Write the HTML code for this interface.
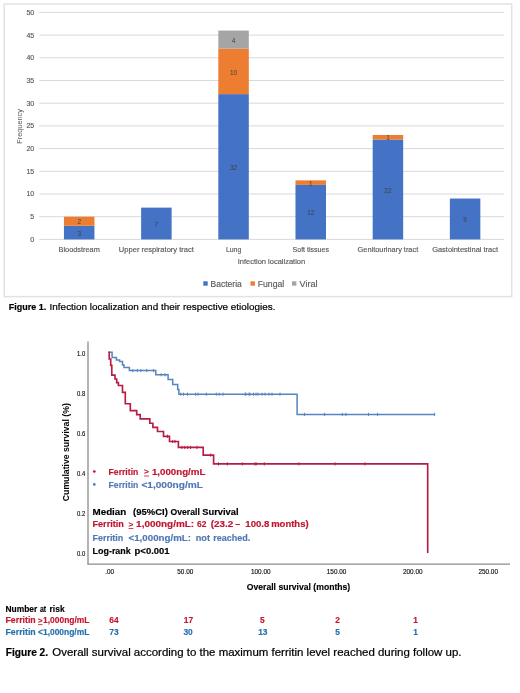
<!DOCTYPE html>
<html><head><meta charset="utf-8"><style>
html,body{margin:0;padding:0;background:#fff;}
svg{display:block;font-family:"Liberation Sans", sans-serif;}
svg{filter:blur(0.3px);}
</style></head><body>
<svg width="520" height="693" viewBox="0 0 520 693">
<rect width="520" height="693" fill="#fff"/>
<rect x="4.25" y="4" width="507.5" height="292.6" fill="none" stroke="#e2e2e2" stroke-width="1.5"/>
<line x1="39.3" y1="239.40" x2="504" y2="239.40" stroke="#d9d9d9" stroke-width="1"/>
<text x="34.2" y="241.80" font-size="7" fill="#595959" text-anchor="end" stroke="#595959" stroke-width="0.15">0</text>
<line x1="39.3" y1="216.70" x2="504" y2="216.70" stroke="#d9d9d9" stroke-width="1"/>
<text x="34.2" y="219.10" font-size="7" fill="#595959" text-anchor="end" stroke="#595959" stroke-width="0.15">5</text>
<line x1="39.3" y1="194.00" x2="504" y2="194.00" stroke="#d9d9d9" stroke-width="1"/>
<text x="34.2" y="196.40" font-size="7" fill="#595959" text-anchor="end" stroke="#595959" stroke-width="0.15">10</text>
<line x1="39.3" y1="171.30" x2="504" y2="171.30" stroke="#d9d9d9" stroke-width="1"/>
<text x="34.2" y="173.70" font-size="7" fill="#595959" text-anchor="end" stroke="#595959" stroke-width="0.15">15</text>
<line x1="39.3" y1="148.60" x2="504" y2="148.60" stroke="#d9d9d9" stroke-width="1"/>
<text x="34.2" y="151.00" font-size="7" fill="#595959" text-anchor="end" stroke="#595959" stroke-width="0.15">20</text>
<line x1="39.3" y1="125.90" x2="504" y2="125.90" stroke="#d9d9d9" stroke-width="1"/>
<text x="34.2" y="128.30" font-size="7" fill="#595959" text-anchor="end" stroke="#595959" stroke-width="0.15">25</text>
<line x1="39.3" y1="103.20" x2="504" y2="103.20" stroke="#d9d9d9" stroke-width="1"/>
<text x="34.2" y="105.60" font-size="7" fill="#595959" text-anchor="end" stroke="#595959" stroke-width="0.15">30</text>
<line x1="39.3" y1="80.50" x2="504" y2="80.50" stroke="#d9d9d9" stroke-width="1"/>
<text x="34.2" y="82.90" font-size="7" fill="#595959" text-anchor="end" stroke="#595959" stroke-width="0.15">35</text>
<line x1="39.3" y1="57.80" x2="504" y2="57.80" stroke="#d9d9d9" stroke-width="1"/>
<text x="34.2" y="60.20" font-size="7" fill="#595959" text-anchor="end" stroke="#595959" stroke-width="0.15">40</text>
<line x1="39.3" y1="35.10" x2="504" y2="35.10" stroke="#d9d9d9" stroke-width="1"/>
<text x="34.2" y="37.50" font-size="7" fill="#595959" text-anchor="end" stroke="#595959" stroke-width="0.15">45</text>
<line x1="39.3" y1="12.40" x2="504" y2="12.40" stroke="#d9d9d9" stroke-width="1"/>
<text x="34.2" y="14.80" font-size="7" fill="#595959" text-anchor="end" stroke="#595959" stroke-width="0.15">50</text>
<rect x="63.95" y="225.78" width="30.5" height="13.62" fill="#4472c4"/>
<text x="79.20" y="235.69" font-size="6.4" fill="#404040" text-anchor="middle">3</text>
<rect x="63.95" y="216.70" width="30.5" height="9.08" fill="#ed7d31"/>
<text x="79.20" y="224.34" font-size="6.4" fill="#404040" text-anchor="middle">2</text>
<rect x="141.13" y="207.62" width="30.5" height="31.78" fill="#4472c4"/>
<text x="156.38" y="226.61" font-size="6.4" fill="#404040" text-anchor="middle">7</text>
<rect x="218.31" y="94.12" width="30.5" height="145.28" fill="#4472c4"/>
<text x="233.56" y="169.86" font-size="6.4" fill="#404040" text-anchor="middle">32</text>
<rect x="218.31" y="48.72" width="30.5" height="45.40" fill="#ed7d31"/>
<text x="233.56" y="74.52" font-size="6.4" fill="#404040" text-anchor="middle">10</text>
<rect x="218.31" y="30.56" width="30.5" height="18.16" fill="#a5a5a5"/>
<text x="233.56" y="42.74" font-size="6.4" fill="#404040" text-anchor="middle">4</text>
<rect x="295.49" y="184.92" width="30.5" height="54.48" fill="#4472c4"/>
<text x="310.74" y="215.26" font-size="6.4" fill="#404040" text-anchor="middle">12</text>
<rect x="295.49" y="180.38" width="30.5" height="4.54" fill="#ed7d31"/>
<text x="310.74" y="185.75" font-size="6.4" fill="#404040" text-anchor="middle">1</text>
<rect x="372.67" y="139.52" width="30.5" height="99.88" fill="#4472c4"/>
<text x="387.92" y="192.56" font-size="6.4" fill="#404040" text-anchor="middle">22</text>
<rect x="372.67" y="134.98" width="30.5" height="4.54" fill="#ed7d31"/>
<text x="387.92" y="140.35" font-size="6.4" fill="#404040" text-anchor="middle">1</text>
<rect x="449.85" y="198.54" width="30.5" height="40.86" fill="#4472c4"/>
<text x="465.10" y="222.07" font-size="6.4" fill="#404040" text-anchor="middle">9</text>
<text x="79.20" y="251.6" font-size="7.3" fill="#595959" text-anchor="middle" textLength="41.3" lengthAdjust="spacingAndGlyphs" stroke="#595959" stroke-width="0.15">Bloodstream</text>
<text x="156.38" y="251.6" font-size="7.3" fill="#595959" text-anchor="middle" textLength="75" lengthAdjust="spacingAndGlyphs" stroke="#595959" stroke-width="0.15">Upper respiratory tract</text>
<text x="233.56" y="251.6" font-size="7.3" fill="#595959" text-anchor="middle" textLength="15.3" lengthAdjust="spacingAndGlyphs" stroke="#595959" stroke-width="0.15">Lung</text>
<text x="310.74" y="251.6" font-size="7.3" fill="#595959" text-anchor="middle" textLength="36.4" lengthAdjust="spacingAndGlyphs" stroke="#595959" stroke-width="0.15">Soft tissues</text>
<text x="387.92" y="251.6" font-size="7.3" fill="#595959" text-anchor="middle" textLength="60.6" lengthAdjust="spacingAndGlyphs" stroke="#595959" stroke-width="0.15">Genitourinary tract</text>
<text x="465.10" y="251.6" font-size="7.3" fill="#595959" text-anchor="middle" textLength="65.8" lengthAdjust="spacingAndGlyphs" stroke="#595959" stroke-width="0.15">Gastointestinal tract</text>
<text x="271.45" y="264.4" font-size="7.8" fill="#595959" text-anchor="middle" textLength="67.5" lengthAdjust="spacingAndGlyphs" stroke="#595959" stroke-width="0.15">Infection localization</text>
<text x="0" y="0" font-size="7.8" fill="#595959" text-anchor="middle" textLength="34.6" lengthAdjust="spacingAndGlyphs" transform="translate(22.2,126.4) rotate(-90)">Frequency</text>
<rect x="203.3" y="281.3" width="4.4" height="4.4" fill="#4472c4"/>
<text x="210.5" y="287" font-size="8.8" fill="#595959" textLength="31.3" lengthAdjust="spacingAndGlyphs" stroke="#595959" stroke-width="0.15">Bacteria</text>
<rect x="250.5" y="281.3" width="4.4" height="4.4" fill="#ed7d31"/>
<text x="257.7" y="287" font-size="8.8" fill="#595959" textLength="26.6" lengthAdjust="spacingAndGlyphs" stroke="#595959" stroke-width="0.15">Fungal</text>
<rect x="292" y="281.3" width="4.4" height="4.4" fill="#a5a5a5"/>
<text x="299.5" y="287" font-size="8.8" fill="#595959" textLength="18" lengthAdjust="spacingAndGlyphs" stroke="#595959" stroke-width="0.15">Viral</text>
<text x="8.8" y="310.3" font-size="9.7" fill="#000" font-weight="bold" textLength="37.4" lengthAdjust="spacingAndGlyphs" stroke="#000" stroke-width="0.2">Figure 1.</text>
<text x="49.6" y="310.3" font-size="9.7" fill="#000" textLength="225.9" lengthAdjust="spacingAndGlyphs" stroke="#000" stroke-width="0.2">Infection localization and their respective etiologies.</text>
<line x1="88" y1="341.5" x2="88" y2="564.2" stroke="#8c8c8c" stroke-width="1.3"/>
<line x1="87.4" y1="564.2" x2="510" y2="564.2" stroke="#8c8c8c" stroke-width="1.3"/>
<text x="85.2" y="556.10" font-size="6.4" fill="#111" text-anchor="end" textLength="8.2" lengthAdjust="spacingAndGlyphs" stroke="#111" stroke-width="0.15">0.0</text>
<text x="85.2" y="515.98" font-size="6.4" fill="#111" text-anchor="end" textLength="8.2" lengthAdjust="spacingAndGlyphs" stroke="#111" stroke-width="0.15">0.2</text>
<text x="85.2" y="475.86" font-size="6.4" fill="#111" text-anchor="end" textLength="8.2" lengthAdjust="spacingAndGlyphs" stroke="#111" stroke-width="0.15">0.4</text>
<text x="85.2" y="435.74" font-size="6.4" fill="#111" text-anchor="end" textLength="8.2" lengthAdjust="spacingAndGlyphs" stroke="#111" stroke-width="0.15">0.6</text>
<text x="85.2" y="395.62" font-size="6.4" fill="#111" text-anchor="end" textLength="8.2" lengthAdjust="spacingAndGlyphs" stroke="#111" stroke-width="0.15">0.8</text>
<text x="85.2" y="355.50" font-size="6.4" fill="#111" text-anchor="end" textLength="8.2" lengthAdjust="spacingAndGlyphs" stroke="#111" stroke-width="0.15">1.0</text>
<text x="109.6" y="573.8" font-size="6.4" fill="#111" text-anchor="middle" stroke="#111" stroke-width="0.15">.00</text>
<text x="185.3" y="573.8" font-size="6.4" fill="#111" text-anchor="middle" stroke="#111" stroke-width="0.15">50.00</text>
<text x="260.8" y="573.8" font-size="6.4" fill="#111" text-anchor="middle" stroke="#111" stroke-width="0.15">100.00</text>
<text x="336.6" y="573.8" font-size="6.4" fill="#111" text-anchor="middle" stroke="#111" stroke-width="0.15">150.00</text>
<text x="412.8" y="573.8" font-size="6.4" fill="#111" text-anchor="middle" stroke="#111" stroke-width="0.15">200.00</text>
<text x="488.2" y="573.8" font-size="6.4" fill="#111" text-anchor="middle" stroke="#111" stroke-width="0.15">250.00</text>
<text x="298.5" y="590" font-size="9" fill="#000" text-anchor="middle" font-weight="bold" textLength="103.4" lengthAdjust="spacingAndGlyphs" stroke="#000" stroke-width="0.15">Overall survival (months)</text>
<text x="0" y="0" font-size="9.2" font-weight="bold" fill="#000" text-anchor="middle" textLength="98" lengthAdjust="spacingAndGlyphs" transform="translate(68.9,452.2) rotate(-90)">Cumulative survival (%)</text>
<path d="M108.4,352.3 H112.1 V357.4 H116.4 V359.9 H119.6 V361.6 H122.5 V365.1 H124 V367.4 H129.4 V370.6 H155.8 V374.8 H168.1 V379.5 H172.7 V384.4 H177.7 V389.6 H178.9 V394.2 H297.1 V414.4 H434.8" fill="none" stroke="#5584bf" stroke-width="1.5"/>
<path d="M108.4,352.3 H109.2 V359 H110.7 V365.3 H111.8 V375.1 H115 V379 H116.7 V382.6 H118.4 V385.5 H122.5 V392.4 H125.3 V403.7 H130.3 V410.6 H136.7 V414.6 H140.2 V418.8 H149.8 V423.2 H152.9 V427.3 H157.5 V431.5 H163.5 V436.3 H169.5 V441.5 H178.4 V447.4 H203.2 V455.1 H213.6 V463.9 H427.7 V552.9" fill="none" stroke="#b51d45" stroke-width="1.65"/>
<line x1="132.8" y1="369.0" x2="132.8" y2="372.20000000000005" stroke="#5584bf" stroke-width="1"/>
<line x1="137.4" y1="369.0" x2="137.4" y2="372.20000000000005" stroke="#5584bf" stroke-width="1"/>
<line x1="140.9" y1="369.0" x2="140.9" y2="372.20000000000005" stroke="#5584bf" stroke-width="1"/>
<line x1="146.7" y1="369.0" x2="146.7" y2="372.20000000000005" stroke="#5584bf" stroke-width="1"/>
<line x1="153.6" y1="369.0" x2="153.6" y2="372.20000000000005" stroke="#5584bf" stroke-width="1"/>
<line x1="161.2" y1="373.2" x2="161.2" y2="376.40000000000003" stroke="#5584bf" stroke-width="1"/>
<line x1="165" y1="373.2" x2="165" y2="376.40000000000003" stroke="#5584bf" stroke-width="1"/>
<line x1="180.8" y1="392.59999999999997" x2="180.8" y2="395.8" stroke="#5584bf" stroke-width="1"/>
<line x1="183.5" y1="392.59999999999997" x2="183.5" y2="395.8" stroke="#5584bf" stroke-width="1"/>
<line x1="187.5" y1="392.59999999999997" x2="187.5" y2="395.8" stroke="#5584bf" stroke-width="1"/>
<line x1="195.6" y1="392.59999999999997" x2="195.6" y2="395.8" stroke="#5584bf" stroke-width="1"/>
<line x1="198" y1="392.59999999999997" x2="198" y2="395.8" stroke="#5584bf" stroke-width="1"/>
<line x1="206.3" y1="392.59999999999997" x2="206.3" y2="395.8" stroke="#5584bf" stroke-width="1"/>
<line x1="216.3" y1="392.59999999999997" x2="216.3" y2="395.8" stroke="#5584bf" stroke-width="1"/>
<line x1="219.2" y1="392.59999999999997" x2="219.2" y2="395.8" stroke="#5584bf" stroke-width="1"/>
<line x1="223" y1="392.59999999999997" x2="223" y2="395.8" stroke="#5584bf" stroke-width="1"/>
<line x1="245.2" y1="392.59999999999997" x2="245.2" y2="395.8" stroke="#5584bf" stroke-width="1"/>
<line x1="245.8" y1="392.59999999999997" x2="245.8" y2="395.8" stroke="#5584bf" stroke-width="1"/>
<line x1="249" y1="392.59999999999997" x2="249" y2="395.8" stroke="#5584bf" stroke-width="1"/>
<line x1="250" y1="392.59999999999997" x2="250" y2="395.8" stroke="#5584bf" stroke-width="1"/>
<line x1="253.5" y1="392.59999999999997" x2="253.5" y2="395.8" stroke="#5584bf" stroke-width="1"/>
<line x1="256" y1="392.59999999999997" x2="256" y2="395.8" stroke="#5584bf" stroke-width="1"/>
<line x1="258" y1="392.59999999999997" x2="258" y2="395.8" stroke="#5584bf" stroke-width="1"/>
<line x1="262" y1="392.59999999999997" x2="262" y2="395.8" stroke="#5584bf" stroke-width="1"/>
<line x1="265" y1="392.59999999999997" x2="265" y2="395.8" stroke="#5584bf" stroke-width="1"/>
<line x1="269" y1="392.59999999999997" x2="269" y2="395.8" stroke="#5584bf" stroke-width="1"/>
<line x1="272" y1="392.59999999999997" x2="272" y2="395.8" stroke="#5584bf" stroke-width="1"/>
<line x1="280" y1="392.59999999999997" x2="280" y2="395.8" stroke="#5584bf" stroke-width="1"/>
<line x1="304.4" y1="412.79999999999995" x2="304.4" y2="416.0" stroke="#5584bf" stroke-width="1"/>
<line x1="324.6" y1="412.79999999999995" x2="324.6" y2="416.0" stroke="#5584bf" stroke-width="1"/>
<line x1="342.3" y1="412.79999999999995" x2="342.3" y2="416.0" stroke="#5584bf" stroke-width="1"/>
<line x1="345.9" y1="412.79999999999995" x2="345.9" y2="416.0" stroke="#5584bf" stroke-width="1"/>
<line x1="368.5" y1="412.79999999999995" x2="368.5" y2="416.0" stroke="#5584bf" stroke-width="1"/>
<line x1="377.6" y1="412.79999999999995" x2="377.6" y2="416.0" stroke="#5584bf" stroke-width="1"/>
<line x1="434.6" y1="412.79999999999995" x2="434.6" y2="416.0" stroke="#5584bf" stroke-width="1"/>
<line x1="167.5" y1="434.7" x2="167.5" y2="437.90000000000003" stroke="#b51d45" stroke-width="1"/>
<line x1="172.7" y1="439.9" x2="172.7" y2="443.1" stroke="#b51d45" stroke-width="1"/>
<line x1="175" y1="439.9" x2="175" y2="443.1" stroke="#b51d45" stroke-width="1"/>
<line x1="181.9" y1="445.79999999999995" x2="181.9" y2="449.0" stroke="#b51d45" stroke-width="1"/>
<line x1="184.8" y1="445.79999999999995" x2="184.8" y2="449.0" stroke="#b51d45" stroke-width="1"/>
<line x1="187.7" y1="445.79999999999995" x2="187.7" y2="449.0" stroke="#b51d45" stroke-width="1"/>
<line x1="190.6" y1="445.79999999999995" x2="190.6" y2="449.0" stroke="#b51d45" stroke-width="1"/>
<line x1="196.9" y1="445.79999999999995" x2="196.9" y2="449.0" stroke="#b51d45" stroke-width="1"/>
<line x1="210.7" y1="453.5" x2="210.7" y2="456.70000000000005" stroke="#b51d45" stroke-width="1"/>
<line x1="218.5" y1="462.29999999999995" x2="218.5" y2="465.5" stroke="#b51d45" stroke-width="1"/>
<line x1="227.3" y1="462.29999999999995" x2="227.3" y2="465.5" stroke="#b51d45" stroke-width="1"/>
<line x1="242.3" y1="462.29999999999995" x2="242.3" y2="465.5" stroke="#b51d45" stroke-width="1"/>
<line x1="255" y1="462.29999999999995" x2="255" y2="465.5" stroke="#b51d45" stroke-width="1"/>
<line x1="256.2" y1="462.29999999999995" x2="256.2" y2="465.5" stroke="#b51d45" stroke-width="1"/>
<line x1="264.3" y1="462.29999999999995" x2="264.3" y2="465.5" stroke="#b51d45" stroke-width="1"/>
<line x1="298.9" y1="462.29999999999995" x2="298.9" y2="465.5" stroke="#b51d45" stroke-width="1"/>
<line x1="335" y1="462.29999999999995" x2="335" y2="465.5" stroke="#b51d45" stroke-width="1"/>
<line x1="365" y1="462.29999999999995" x2="365" y2="465.5" stroke="#b51d45" stroke-width="1"/>
<circle cx="94.3" cy="471.5" r="1.35" fill="#c0142f"/>
<circle cx="94.3" cy="484.4" r="1.35" fill="#5078b5"/>
<text x="108.6" y="474.8" font-size="8.6" fill="#c0142f" font-weight="bold" textLength="29.7" lengthAdjust="spacingAndGlyphs" stroke="#c0142f" stroke-width="0.15">Ferritin</text>
<text x="144.1" y="473.9" font-size="7.5" fill="#c0142f" font-weight="bold" textLength="4.9" lengthAdjust="spacingAndGlyphs" stroke="#c0142f" stroke-width="0.15">&gt;</text>
<rect x="144.1" y="475.60" width="4.90" height="0.8" fill="#c0142f"/>
<text x="151.9" y="474.8" font-size="8.6" fill="#c0142f" font-weight="bold" textLength="53.5" lengthAdjust="spacingAndGlyphs" stroke="#c0142f" stroke-width="0.15">1,000ng/mL</text>
<text x="108.6" y="487.8" font-size="8.6" fill="#5078b5" font-weight="bold" textLength="29.7" lengthAdjust="spacingAndGlyphs" stroke="#5078b5" stroke-width="0.15">Ferritin</text>
<text x="141.4" y="487.8" font-size="8.6" fill="#5078b5" font-weight="bold" textLength="61.6" lengthAdjust="spacingAndGlyphs" stroke="#5078b5" stroke-width="0.15">&lt;1,000ng/mL</text>
<text x="92.5" y="514.6" font-size="8.4" fill="#000" font-weight="bold" textLength="33.8" lengthAdjust="spacingAndGlyphs" stroke="#000" stroke-width="0.15">Median</text>
<text x="133.1" y="514.6" font-size="8.4" fill="#000" font-weight="bold" textLength="34.7" lengthAdjust="spacingAndGlyphs" stroke="#000" stroke-width="0.15">(95%CI)</text>
<text x="170.6" y="514.6" font-size="8.4" fill="#000" font-weight="bold" textLength="29.2" lengthAdjust="spacingAndGlyphs" stroke="#000" stroke-width="0.15">Overall</text>
<text x="202.3" y="514.6" font-size="8.4" fill="#000" font-weight="bold" textLength="36.3" lengthAdjust="spacingAndGlyphs" stroke="#000" stroke-width="0.15">Survival</text>
<text x="92.5" y="527.1" font-size="8.4" fill="#c0142f" font-weight="bold" textLength="31.3" lengthAdjust="spacingAndGlyphs" stroke="#c0142f" stroke-width="0.15">Ferritin</text>
<text x="128.6" y="526.5" font-size="7.3" fill="#c0142f" font-weight="bold" textLength="4.8" lengthAdjust="spacingAndGlyphs" stroke="#c0142f" stroke-width="0.15">&gt;</text>
<rect x="128.6" y="528.20" width="4.80" height="0.8" fill="#c0142f"/>
<text x="136.1" y="527.1" font-size="8.4" fill="#c0142f" font-weight="bold" textLength="58.1" lengthAdjust="spacingAndGlyphs" stroke="#c0142f" stroke-width="0.15">1,000ng/mL:</text>
<text x="197.1" y="527.1" font-size="8.4" fill="#c0142f" font-weight="bold" textLength="9.4" lengthAdjust="spacingAndGlyphs" stroke="#c0142f" stroke-width="0.15">62</text>
<text x="210.8" y="527.1" font-size="8.4" fill="#c0142f" font-weight="bold" textLength="22.5" lengthAdjust="spacingAndGlyphs" stroke="#c0142f" stroke-width="0.15">(23.2</text>
<text x="235.2" y="527.1" font-size="8.4" fill="#c0142f" font-weight="bold" textLength="5.0" lengthAdjust="spacingAndGlyphs" stroke="#c0142f" stroke-width="0.15">–</text>
<text x="245.3" y="527.1" font-size="8.4" fill="#c0142f" font-weight="bold" textLength="24.1" lengthAdjust="spacingAndGlyphs" stroke="#c0142f" stroke-width="0.15">100.8</text>
<text x="271.2" y="527.1" font-size="8.4" fill="#c0142f" font-weight="bold" textLength="37.4" lengthAdjust="spacingAndGlyphs" stroke="#c0142f" stroke-width="0.15">months)</text>
<text x="92.5" y="540.5" font-size="8.4" fill="#5078b5" font-weight="bold" textLength="30.8" lengthAdjust="spacingAndGlyphs" stroke="#5078b5" stroke-width="0.15">Ferritin</text>
<text x="128.5" y="540.5" font-size="8.4" fill="#5078b5" font-weight="bold" textLength="62.5" lengthAdjust="spacingAndGlyphs" stroke="#5078b5" stroke-width="0.15">&lt;1,000ng/mL:</text>
<text x="195.7" y="540.5" font-size="8.4" fill="#5078b5" font-weight="bold" textLength="14.3" lengthAdjust="spacingAndGlyphs" stroke="#5078b5" stroke-width="0.15">not</text>
<text x="213.2" y="540.5" font-size="8.4" fill="#5078b5" font-weight="bold" textLength="37.1" lengthAdjust="spacingAndGlyphs" stroke="#5078b5" stroke-width="0.15">reached.</text>
<text x="92.6" y="553.9" font-size="8.4" fill="#000" font-weight="bold" textLength="38.1" lengthAdjust="spacingAndGlyphs" stroke="#000" stroke-width="0.15">Log-rank</text>
<text x="134.6" y="553.9" font-size="8.4" fill="#000" font-weight="bold" textLength="35.0" lengthAdjust="spacingAndGlyphs" stroke="#000" stroke-width="0.15">p&lt;0.001</text>
<text x="5.5" y="611.8" font-size="8.4" fill="#000" font-weight="bold" textLength="31.8" lengthAdjust="spacingAndGlyphs" stroke="#000" stroke-width="0.15">Number</text>
<text x="40" y="611.8" font-size="8.4" fill="#000" font-weight="bold" textLength="6.2" lengthAdjust="spacingAndGlyphs" stroke="#000" stroke-width="0.15">at</text>
<text x="49.6" y="611.8" font-size="8.4" fill="#000" font-weight="bold" textLength="15.0" lengthAdjust="spacingAndGlyphs" stroke="#000" stroke-width="0.15">risk</text>
<text x="5.5" y="623.4" font-size="8.4" fill="#c4162e" font-weight="bold" textLength="30.2" lengthAdjust="spacingAndGlyphs" stroke="#c4162e" stroke-width="0.15">Ferritin</text>
<text x="38" y="622.6" font-size="7.2" fill="#c4162e" font-weight="bold" textLength="4.6" lengthAdjust="spacingAndGlyphs" stroke="#c4162e" stroke-width="0.15">&gt;</text>
<rect x="38" y="624.30" width="4.60" height="0.8" fill="#c4162e"/>
<text x="43.1" y="623.4" font-size="8.4" fill="#c4162e" font-weight="bold" textLength="46.3" lengthAdjust="spacingAndGlyphs" stroke="#c4162e" stroke-width="0.15">1,000ng/mL</text>
<text x="5.5" y="634.6" font-size="8.4" fill="#2370ae" font-weight="bold" textLength="30.2" lengthAdjust="spacingAndGlyphs" stroke="#2370ae" stroke-width="0.15">Ferritin</text>
<text x="38" y="634.6" font-size="8.4" fill="#2370ae" font-weight="bold" textLength="51.4" lengthAdjust="spacingAndGlyphs" stroke="#2370ae" stroke-width="0.15">&lt;1,000ng/mL</text>
<text x="114" y="623.2" font-size="8.4" fill="#c4162e" text-anchor="middle" font-weight="bold" stroke="#c4162e" stroke-width="0.15">64</text>
<text x="188.4" y="623.2" font-size="8.4" fill="#c4162e" text-anchor="middle" font-weight="bold" stroke="#c4162e" stroke-width="0.15">17</text>
<text x="262.3" y="623.2" font-size="8.4" fill="#c4162e" text-anchor="middle" font-weight="bold" stroke="#c4162e" stroke-width="0.15">5</text>
<text x="337.5" y="623.2" font-size="8.4" fill="#c4162e" text-anchor="middle" font-weight="bold" stroke="#c4162e" stroke-width="0.15">2</text>
<text x="415.7" y="623.2" font-size="8.4" fill="#c4162e" text-anchor="middle" font-weight="bold" stroke="#c4162e" stroke-width="0.15">1</text>
<text x="114" y="634.6" font-size="8.4" fill="#2370ae" text-anchor="middle" font-weight="bold" stroke="#2370ae" stroke-width="0.15">73</text>
<text x="188.1" y="634.6" font-size="8.4" fill="#2370ae" text-anchor="middle" font-weight="bold" stroke="#2370ae" stroke-width="0.15">30</text>
<text x="262.8" y="634.6" font-size="8.4" fill="#2370ae" text-anchor="middle" font-weight="bold" stroke="#2370ae" stroke-width="0.15">13</text>
<text x="337.5" y="634.6" font-size="8.4" fill="#2370ae" text-anchor="middle" font-weight="bold" stroke="#2370ae" stroke-width="0.15">5</text>
<text x="415.7" y="634.6" font-size="8.4" fill="#2370ae" text-anchor="middle" font-weight="bold" stroke="#2370ae" stroke-width="0.15">1</text>
<text x="5.8" y="655.7" font-size="10.4" fill="#000" font-weight="bold" textLength="42.3" lengthAdjust="spacingAndGlyphs" stroke="#000" stroke-width="0.2">Figure 2.</text>
<text x="52.3" y="655.7" font-size="10.4" fill="#000" textLength="409.2" lengthAdjust="spacingAndGlyphs" stroke="#000" stroke-width="0.2">Overall survival according to the maximum ferritin level reached during follow up.</text>
</svg>
</body></html>
